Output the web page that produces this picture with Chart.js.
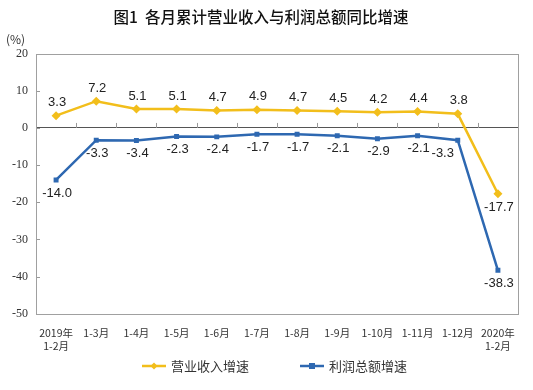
<!DOCTYPE html>
<html><head><meta charset="utf-8">
<script src="https://cdn.jsdelivr.net/npm/chart.js@4/dist/chart.umd.min.js"></script>
<style>html,body{margin:0;padding:0;background:#fff}#wrap{width:533px;height:390px}</style>
</head><body><div id="wrap"><canvas id="c" width="533" height="390"></canvas></div>
<script>
const categories = [["2019年","1-2月"],"1-3月","1-4月","1-5月","1-6月","1-7月","1-8月","1-9月","1-10月","1-11月","1-12月",["2020年","1-2月"]];
const revenueGrowth = [3.3,7.2,5.1,5.1,4.7,4.9,4.7,4.5,4.2,4.4,3.8,-17.7];
const profitGrowth = [-14.0,-3.3,-3.4,-2.3,-2.4,-1.7,-1.7,-2.1,-2.9,-2.1,-3.3,-38.3];
const yTicks = [20,10,0,-10,-20,-30,-40,-50];
const seriesNames = ["营业收入增速","利润总额增速"];

const YELLOW = '#F2BE1B', BLUE = '#2E68B1';

const extras = {
  id:'extras',
  beforeDatasetsDraw(chart){
    const {ctx, chartArea:a, scales:{x,y}} = chart;
    ctx.save();
    const y0 = y.getPixelForValue(0);
    const step = x.getPixelForValue(1)-x.getPixelForValue(0);
    ctx.strokeStyle='#999'; ctx.lineWidth=1;
    for(let i=1;i<categories.length;i++){
      const px = Math.round(x.getPixelForValue(i)-step/2)+0.5;
      ctx.beginPath(); ctx.moveTo(px,y0); ctx.lineTo(px,y0-5); ctx.stroke();
    }
    yTicks.forEach(v=>{
      const py=Math.round(y.getPixelForValue(v))+0.5;
      ctx.beginPath(); ctx.moveTo(a.left,py); ctx.lineTo(a.left+4,py); ctx.stroke();
    });
    ctx.strokeStyle='#a0a0a0';
    ctx.strokeRect(Math.round(a.left)+0.5,Math.round(a.top)+0.5,Math.round(a.right-a.left),Math.round(a.bottom-a.top));
    ctx.fillStyle='#333'; ctx.font='12px "Noto Sans CJK SC"'; ctx.textAlign='left'; ctx.textBaseline='middle';
    ctx.fillText('(%)', 6, a.top-14);
    ctx.restore();
  },
  afterDatasetsDraw(chart){
    const {ctx} = chart;
    ctx.save();
    ctx.font='13px "Liberation Sans", Arial'; ctx.fillStyle='#222'; ctx.textAlign='center'; ctx.textBaseline='middle';
    chart.data.datasets.forEach((ds,di)=>{
      const meta=chart.getDatasetMeta(di);
      meta.data.forEach((pt,i)=>{
        const v=ds.data[i];
        let dy = di===0 ? -13 : 13, dx = 1;
        if(di===0 && i===categories.length-1) dy=14;
        if(di===1 && i===categories.length-2) dx=-15;
        ctx.fillText(v.toFixed(1), pt.x+dx, pt.y+dy);
      });
    });
    const items=[{x:142,c:YELLOW,s:'diamond'},{x:300,c:BLUE,s:'square'}];
    const ly=366;
    ctx.font='13px "Noto Sans CJK SC"'; ctx.textAlign='left';
    items.forEach((it,i)=>{
      ctx.strokeStyle=it.c; ctx.fillStyle=it.c; ctx.lineWidth=2.5;
      ctx.beginPath(); ctx.moveTo(it.x,ly); ctx.lineTo(it.x+24,ly); ctx.stroke();
      const cx=it.x+12;
      ctx.beginPath();
      if(it.s==='diamond'){ctx.moveTo(cx,ly-3.5);ctx.lineTo(cx+3.5,ly);ctx.lineTo(cx,ly+3.5);ctx.lineTo(cx-3.5,ly);ctx.closePath();}
      else ctx.rect(cx-3,ly-3,6,6);
      ctx.fill();
      ctx.fillStyle='#333';
      ctx.fillText(seriesNames[i], it.x+29, ly);
    });
    ctx.restore();
  }
};

new Chart(document.getElementById('c'),{
  type:'line',
  data:{labels:categories,datasets:[
    {label:seriesNames[0],data:revenueGrowth,borderColor:YELLOW,backgroundColor:YELLOW,borderWidth:2.5,pointStyle:'rectRot',pointRadius:4.5,pointBorderWidth:0,tension:0},
    {label:seriesNames[1],data:profitGrowth,borderColor:BLUE,backgroundColor:BLUE,borderWidth:2.5,pointStyle:'rect',pointRadius:3.5,pointBorderWidth:0,tension:0}
  ]},
  options:{
    responsive:false,animation:false,
    layout:{padding:{left:4,right:15,top:0,bottom:33}},
    plugins:{
      title:{display:true,text:'图1  各月累计营业收入与利润总额同比增速',color:'#111',font:{family:'"Noto Sans CJK SC"',size:15.5,weight:'500'},padding:{top:8,bottom:27}},
      legend:{display:false},
      tooltip:{enabled:false}
    },
    scales:{
      x:{offset:true,grid:{display:false},border:{display:false},
        ticks:{color:'#333',font:{family:'"Noto Sans CJK SC"',size:10.5},maxRotation:0,autoSkip:false,padding:5}},
      y:{min:-50,max:20,afterBuildTicks(s){s.ticks=yTicks.map(v=>({value:v}));},
        grid:{color:c=>c.tick&&c.tick.value===0?'#555':'rgba(0,0,0,0)',drawTicks:false,lineWidth:1},
        border:{display:false},
        ticks:{color:'#333',font:{family:'"Liberation Serif"',size:12},padding:8}}
    }
  },
  plugins:[extras]
});
</script></body></html>
